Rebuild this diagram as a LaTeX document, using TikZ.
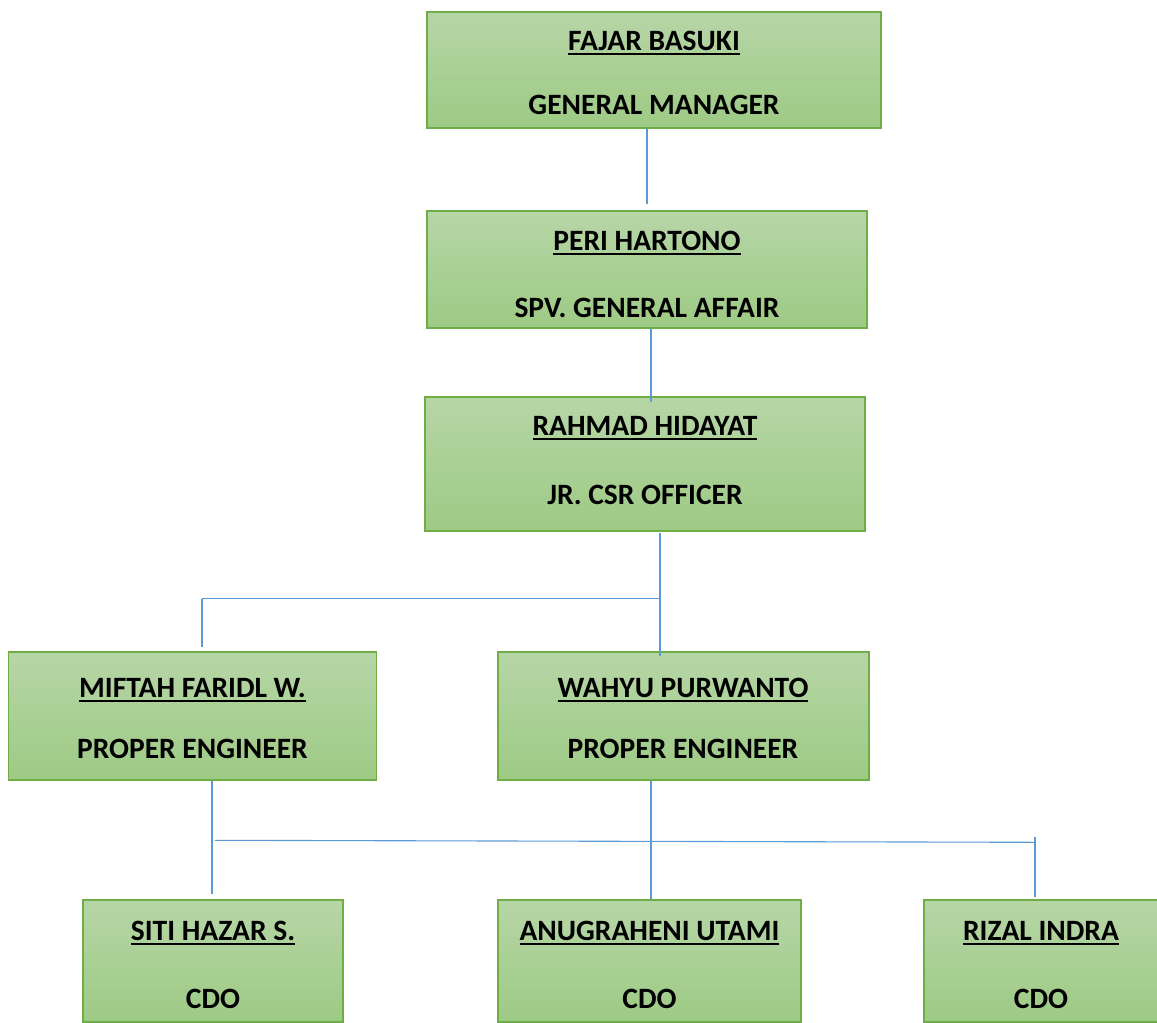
\documentclass[tikz,border=0pt]{standalone}
\usepackage{fontspec}
\setmainfont{Carlito}
\definecolor{boxtop}{RGB}{183,214,167}
\definecolor{boxbot}{RGB}{157,202,132}
\definecolor{boxline}{RGB}{112,173,71}
\definecolor{conn}{RGB}{91,155,213}
\newcommand\nmul[1]{\setbox0\hbox{#1}\rlap{\vrule height -3pt depth 5.2pt width \wd0}\box0}
\tikzset{
  box/.style={rectangle, draw=boxline, line width=1.3pt, top color=boxtop, bottom color=boxbot, inner sep=0pt},
  txt/.style={anchor=base, inner sep=0pt, font=\fontsize{29.5}{32}\selectfont\bfseries, text=black},
  link/.style={draw=conn, line width=1.1pt}
}
\begin{document}
\begin{tikzpicture}[x=1pt,y=-1pt]
\useasboundingbox (0,0) rectangle (1157,1023);
% boxes
\node[box, minimum width=454pt, minimum height=116pt] (fajar) at (654,70) {};
\node[box, minimum width=440pt, minimum height=117pt] (peri) at (647,269.5) {};
\node[box, minimum width=440pt, minimum height=134pt] (rahmad) at (645,464) {};
\node[box, minimum width=368pt, minimum height=128pt] (miftah) at (192.5,716) {};
\node[box, minimum width=371pt, minimum height=128pt] (wahyu) at (683.5,716) {};
\node[box, minimum width=260pt, minimum height=122pt] (siti) at (213,961) {};
\node[box, minimum width=303pt, minimum height=122pt] (anu) at (649.5,961) {};
\node[box, minimum width=250pt, minimum height=122pt] (rizal) at (1049,961) {};
% texts
\node[txt] (fajar-n) at (654,50) {\nmul{FAJAR BASUKI}};
\node[txt] (fajar-r) at (654,114) {GENERAL MANAGER};
\node[txt] (peri-n) at (647,250) {\nmul{PERI HARTONO}};
\node[txt] (peri-r) at (647,317) {SPV. GENERAL AFFAIR};
\node[txt] (rahmad-n) at (645,435) {\nmul{RAHMAD HIDAYAT}};
\node[txt] (rahmad-r) at (645,504) {JR. CSR OFFICER};
\node[txt] (miftah-n) at (192.5,697) {\nmul{MIFTAH FARIDL W.}};
\node[txt] (miftah-r) at (192.5,758) {PROPER ENGINEER};
\node[txt] (wahyu-n) at (683,697) {\nmul{WAHYU PURWANTO}};
\node[txt] (wahyu-r) at (683,758) {PROPER ENGINEER};
\node[txt] (siti-n) at (213,940) {\nmul{SITI HAZAR S.}};
\node[txt] (siti-r) at (213,1008) {CDO};
\node[txt] (anu-n) at (649.5,940) {\nmul{ANUGRAHENI UTAMI}};
\node[txt] (anu-r) at (649.5,1008) {CDO};
\node[txt] (rizal-n) at (1041,940) {\nmul{RIZAL INDRA}};
\node[txt] (rizal-r) at (1041,1008) {CDO};
% connector points
\coordinate (c1) at (647,204);
\coordinate (c2) at (651,402);
\coordinate (c3a) at (660,533);
\coordinate (c3b) at (660,598.5);
\coordinate (c3c) at (660,656);
\coordinate (c4a) at (202,598.5);
\coordinate (c4b) at (202,647);
\coordinate (c5a) at (212,780);
\coordinate (c5b) at (212,894);
\coordinate (c6a) at (215,840.3);
\coordinate (c6b) at (1035,842.3);
\coordinate (c7a) at (1035,837);
\coordinate (c7b) at (1035,897);
\coordinate (c8a) at (651,780);
\coordinate (c8b) at (651,900);
% connectors
\draw[link] (fajar.south -| c1) -- (c1);
\draw[link] (peri.south -| c2) -- (c2);
\draw[link] (c3a) -- (c3c);
\draw[link] (c4a) -- (c3b);
\draw[link] (c4a) -- (c4b);
\draw[link] (miftah.south -| c5a) -- (c5b);
\draw[link] (c6a) -- (c6b);
\draw[link] (c7a) -- (c7b);
\draw[link] (wahyu.south -| c8a) -- (anu.north -| c8b);
\end{tikzpicture}
\end{document}
